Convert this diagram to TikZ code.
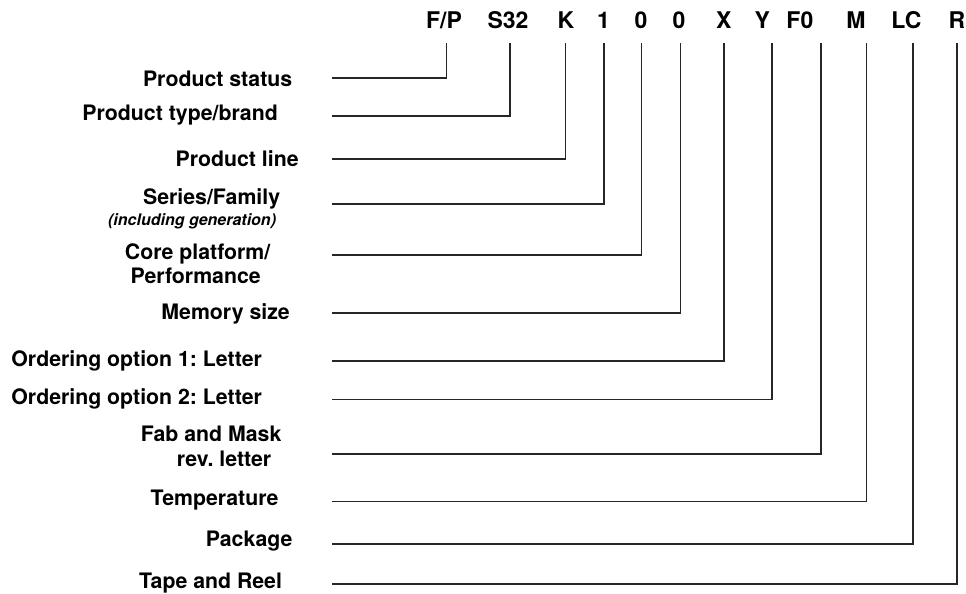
\documentclass[tikz,border=0pt]{standalone}
\usepackage{fontspec}
\setmainfont{TeX Gyre Heros}
\frenchspacing
\tikzset{
  partcode/.style={anchor=base,inner sep=0pt,font=\fontsize{23}{27}\selectfont\bfseries},
  partlabel/.style={anchor=base,inner sep=0pt,font=\fontsize{21.3}{25}\selectfont\bfseries},
  partnote/.style={anchor=base,inner sep=0pt,font=\fontsize{16}{19}\selectfont\bfseries\itshape},
  partwire/.style={line width=1.6pt,color=black!85}
}

\begin{document}
\begin{tikzpicture}[scale=1.000000,x=1pt,y=1pt]
\filldraw[color=white] (0.000000, -593.000000) rectangle (966.000000, 0.000000);
% Drawing part number fields
\node[partcode] (c1) at (444.000000, -28.300000) {F/P};
\node[partcode] (c2) at (508.000000, -28.300000) {S32};
\node[partcode] (c3) at (566.000000, -28.300000) {K};
\node[partcode] (c4) at (603.500000, -28.300000) {1};
\node[partcode] (c5) at (641.000000, -28.300000) {0};
\node[partcode] (c6) at (679.000000, -28.300000) {0};
\node[partcode] (c7) at (724.000000, -28.300000) {X};
\node[partcode] (c8) at (762.500000, -28.300000) {Y};
\node[partcode] (c9) at (800.000000, -28.300000) {F0};
\node[partcode] (c10) at (856.000000, -28.300000) {M};
\node[partcode] (c11) at (906.500000, -28.300000) {LC};
\node[partcode] (c12) at (957.000000, -28.300000) {R};
% Done with fields; drawing labels
\node[partlabel] (l1) at (217.500000, -86.700000) {Product status};
\node[partlabel] (l2) at (180.000000, -120.000000) {Product type/brand};
\node[partlabel] (l3) at (237.000000, -166.000000) {Product line};
\node[partlabel] (l4) at (211.500000, -204.300000) {Series/Family};
\node[partnote] (l4n) at (192.000000, -225.000000) {(including generation)};
\node[partlabel] (l5) at (197.500000, -259.500000) {Core platform/};
\node[partlabel] (l5n) at (195.500000, -283.000000) {Performance};
\node[partlabel] (l6) at (225.500000, -319.500000) {Memory size};
\node[partlabel] (l7) at (136.500000, -366.500000) {Ordering option 1: Letter};
\node[partlabel] (l8) at (136.500000, -404.000000) {Ordering option 2: Letter};
\node[partlabel] (l9) at (211.000000, -441.700000) {Fab and Mask};
\node[partlabel] (l9n) at (224.000000, -466.700000) {rev. letter};
\node[partlabel] (l10) at (214.500000, -506.000000) {Temperature};
\node[partlabel] (l11) at (249.000000, -546.700000) {Package};
\node[partlabel] (l12) at (210.500000, -589.000000) {Tape and Reel};
% Done with labels; drawing wires
% Wire 1: Product status -> F/P
\coordinate (a1) at (332.000000, -77.700000);
\coordinate (t1) at (446.500000, -43.300000);
\draw[partwire] (a1) -| (t1);
% Wire 2: Product type/brand -> S32
\coordinate (a2) at (332.000000, -115.700000);
\coordinate (t2) at (510.000000, -43.300000);
\draw[partwire] (a2) -| (t2);
% Wire 3: Product line -> K
\coordinate (a3) at (332.000000, -158.700000);
\coordinate (t3) at (565.700000, -43.300000);
\draw[partwire] (a3) -| (t3);
% Wire 4: Series/Family -> 1
\coordinate (a4) at (332.000000, -204.000000);
\coordinate (t4) at (604.000000, -43.300000);
\draw[partwire] (a4) -| (t4);
% Wire 5: Core platform -> 0
\coordinate (a5) at (332.000000, -255.000000);
\coordinate (t5) at (641.700000, -43.300000);
\draw[partwire] (a5) -| (t5);
% Wire 6: Memory size -> 0
\coordinate (a6) at (332.000000, -312.700000);
\coordinate (t6) at (680.500000, -43.300000);
\draw[partwire] (a6) -| (t6);
% Wire 7: Ordering option 1 -> X
\coordinate (a7) at (332.000000, -360.700000);
\coordinate (t7) at (724.300000, -43.300000);
\draw[partwire] (a7) -| (t7);
% Wire 8: Ordering option 2 -> Y
\coordinate (a8) at (332.000000, -399.300000);
\coordinate (t8) at (772.300000, -43.300000);
\draw[partwire] (a8) -| (t8);
% Wire 9: Fab and Mask -> F0
\coordinate (a9) at (332.000000, -454.000000);
\coordinate (t9) at (821.000000, -43.300000);
\draw[partwire] (a9) -| (t9);
% Wire 10: Temperature -> M
\coordinate (a10) at (332.000000, -501.700000);
\coordinate (t10) at (866.700000, -43.300000);
\draw[partwire] (a10) -| (t10);
% Wire 11: Package -> LC
\coordinate (a11) at (332.000000, -544.000000);
\coordinate (t11) at (913.300000, -43.300000);
\draw[partwire] (a11) -| (t11);
% Wire 12: Tape and Reel -> R
\coordinate (a12) at (332.000000, -584.300000);
\coordinate (t12) at (957.300000, -43.300000);
\draw[partwire] (a12) -| (t12);
% Done with wires
\end{tikzpicture}
\end{document}
